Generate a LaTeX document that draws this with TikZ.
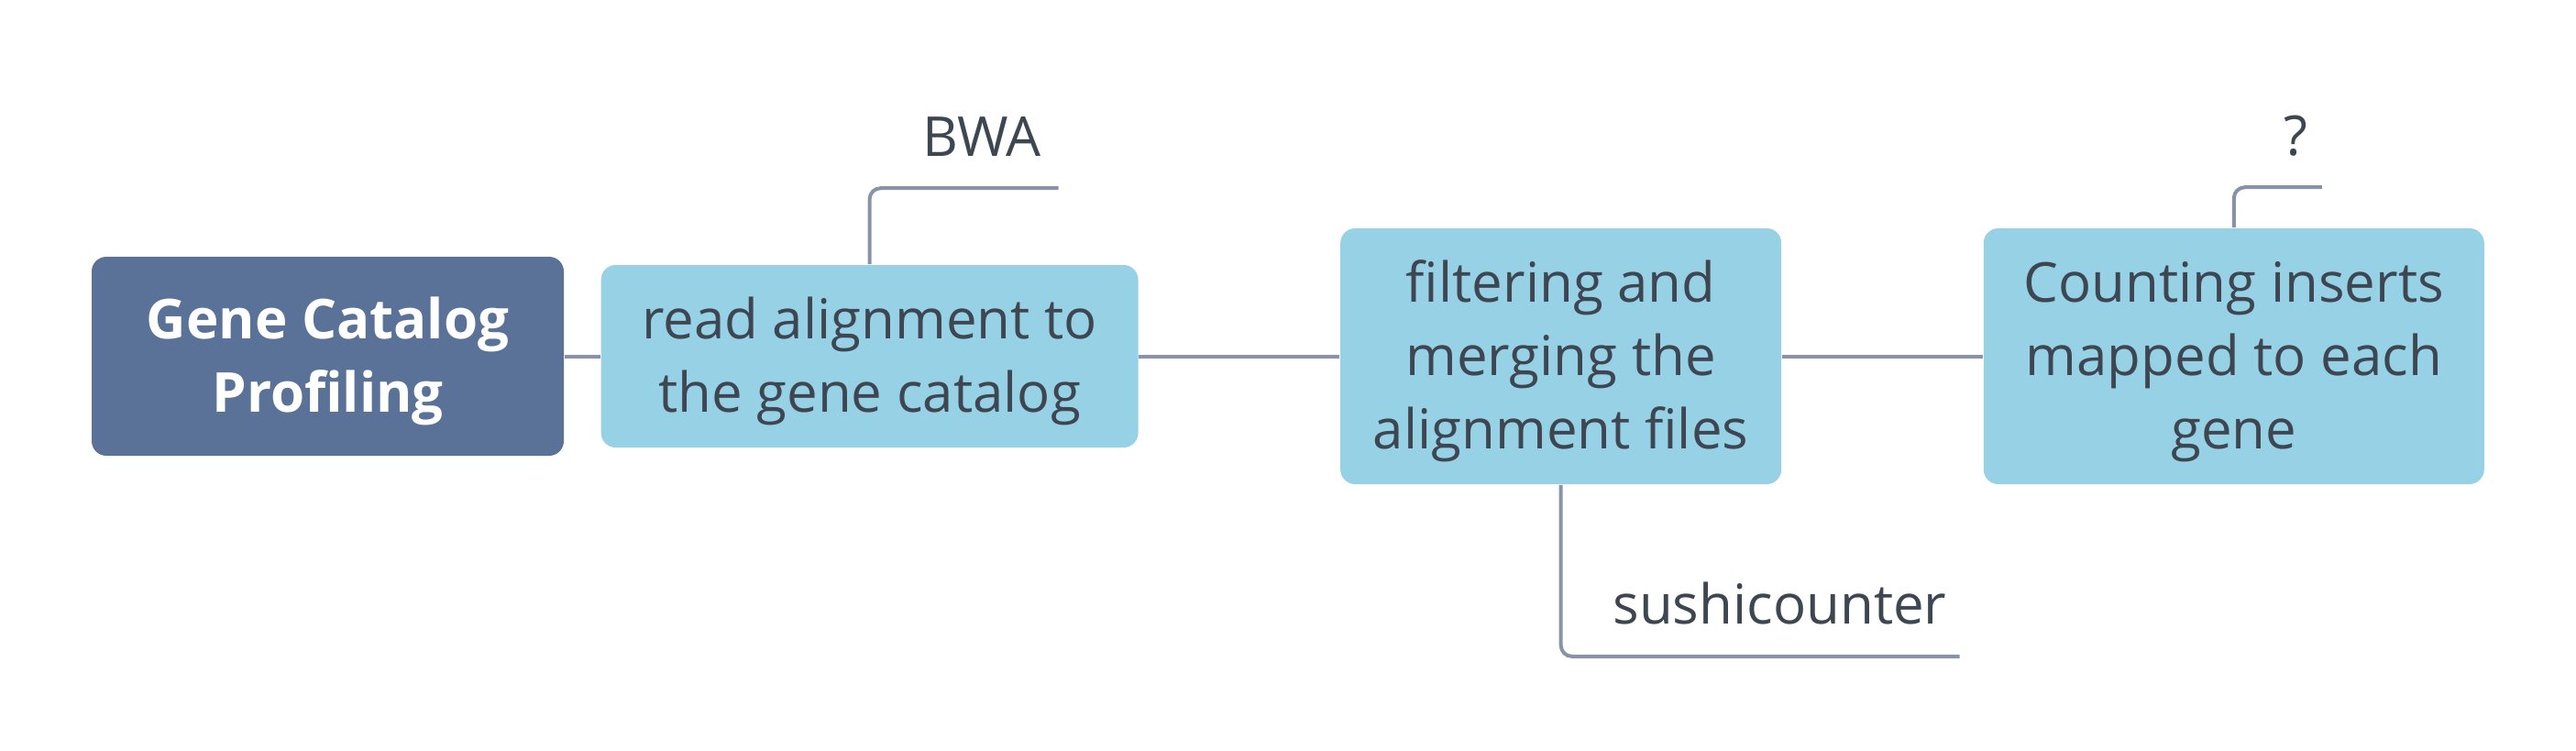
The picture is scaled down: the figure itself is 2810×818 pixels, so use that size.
\documentclass[tikz,border=0pt]{standalone}
\usepackage{fontspec}
\setmainfont{Open Sans}
\usetikzlibrary{positioning}
\definecolor{rootblue}{HTML}{5A7298}
\definecolor{boxblue}{HTML}{96D1E6}
\definecolor{inkgray}{HTML}{3E4651}
\definecolor{linegray}{HTML}{8893A7}

\begin{document}
\begin{tikzpicture}[x=0.25pt,y=0.25pt,
    topic/.style={rectangle, rounded corners=4pt, fill=boxblue, text=inkgray,
        font=\fontsize{15}{20}\selectfont, align=center, inner sep=0pt},
    roottopic/.style={topic, fill=rootblue, text=white,
        font=\fontsize{15}{20}\selectfont\bfseries},
    tool/.style={anchor=base west, inner sep=0pt, text=inkgray,
        font=\fontsize{15}{20}\selectfont},
    link/.style={draw=linegray, line width=1pt, rounded corners=3pt}]
    \useasboundingbox (0,0) rectangle (2810,-818);
                \node[roottopic, minimum width=128.75pt, minimum height=54.25pt] (root) at (357.5,-388.5) {\strut Gene Catalog\\Profiling};
                \node[topic, right=9.75pt of root, minimum width=146.5pt, minimum height=49.75pt] (align) {\strut read alignment to\\the gene catalog};
                \node[topic, right=54.75pt of align, minimum width=120.25pt, minimum height=69.75pt] (filter) {\strut filtering and\\merging the\\alignment files};
                \node[topic, right=54.75pt of filter, minimum width=136.5pt, minimum height=69.75pt] (count) {\strut Counting inserts\\mapped to each\\gene};
                \coordinate (bwaend) at ([shift={(51.5pt,20.75pt)}]align.north);
                \coordinate (sushiend) at ([shift={(108.75pt,-46.75pt)}]filter.south);
                \coordinate (qend) at ([shift={(24pt,11pt)}]count.north);
                \node[tool] (bwa) at ([shift={(14.25pt,29.5pt)}]align.north) {BWA};
                \node[tool] (sushi) at ([shift={(14pt,-38pt)}]filter.south) {sushicounter};
                \node[tool] (unknown) at ([shift={(13.5pt,19.75pt)}]count.north) {?};
                \draw[link] (root) -- (align);
                \draw[link] (align) -- (filter);
                \draw[link] (filter) -- (count);
                \draw[link] (align.north) |- (bwaend);
                \draw[link] (filter.south) |- (sushiend);
                \draw[link] (count.north) |- (qend);
\end{tikzpicture}
\end{document}
